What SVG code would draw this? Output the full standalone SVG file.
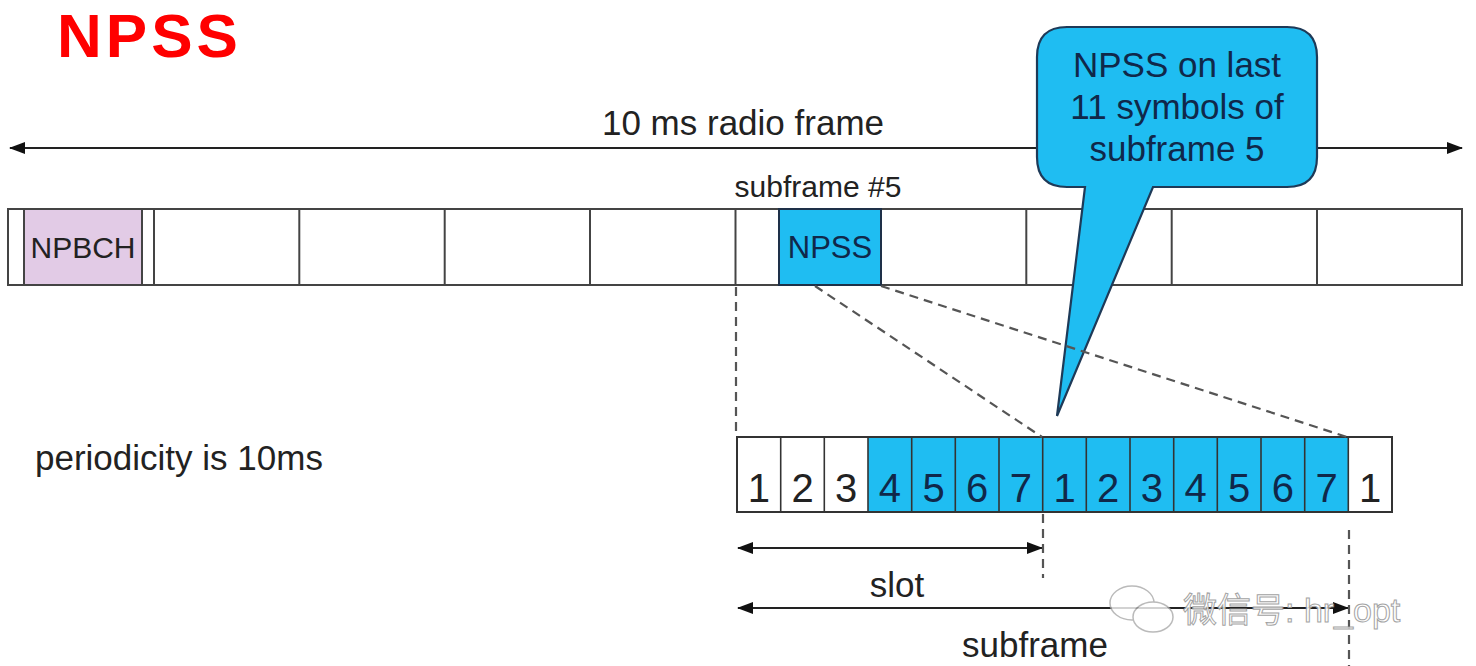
<svg xmlns="http://www.w3.org/2000/svg" width="1476" height="666" viewBox="0 0 1476 666">
  <defs>
    <style>
      .t { font-family: "Liberation Sans", Arial, sans-serif; fill: #222; }
      .tb { font-family: "Liberation Sans", Arial, sans-serif; fill: #10284a; }
      .frame { fill: #fff; stroke: #444; stroke-width: 2; }
      .div { stroke: #444; stroke-width: 2; }
      .sym { stroke: #333; stroke-width: 1.6; }
      .blue { fill: #1fbdf2; }
      .dash { stroke: #555; stroke-width: 2.2; stroke-dasharray: 9 6; fill: none; }
      .arrow { stroke: #222; stroke-width: 2; fill: none; }
    </style>
    <marker id="ah" viewBox="0 0 16 12" refX="15" refY="6" markerWidth="16" markerHeight="12" markerUnits="userSpaceOnUse" orient="auto-start-reverse">
      <path d="M0,0 L16,6 L0,12 Z" fill="#111"/>
    </marker>
  </defs>

  <rect width="1476" height="666" fill="#fff"/>

  <text class="t" x="57" y="57" font-size="62" font-weight="bold" letter-spacing="4" style="fill:#ff0000">NPSS</text>

  <!-- radio frame row -->
  <g id="radio-frame">
    <rect class="frame" x="8" y="209" width="1454" height="76"/>
    <rect x="24" y="209" width="118" height="76" fill="#e2cbe6" stroke="#444" stroke-width="2"/>
    <text class="t" x="83" y="258" font-size="30" text-anchor="middle">NPBCH</text>
    <line class="div" x1="154" y1="209" x2="154" y2="285"/>
    <line class="div" x1="299.3" y1="209" x2="299.3" y2="285"/>
    <line class="div" x1="444.7" y1="209" x2="444.7" y2="285"/>
    <line class="div" x1="590" y1="209" x2="590" y2="285"/>
    <line class="div" x1="735.5" y1="209" x2="735.5" y2="285"/>
    <line class="div" x1="1026.3" y1="209" x2="1026.3" y2="285"/>
    <line class="div" x1="1171.7" y1="209" x2="1171.7" y2="285"/>
    <line class="div" x1="1317" y1="209" x2="1317" y2="285"/>
  </g>
  <g id="npss-box">
    <rect class="blue" x="779" y="209" width="102" height="76" stroke="#1e3048" stroke-width="2"/>
    <text class="tb" x="830" y="258" font-size="31" text-anchor="middle">NPSS</text>
  </g>
  <text class="t" x="818" y="197" font-size="30" text-anchor="middle">subframe #5</text>

  <!-- symbol row -->
  <g id="symbol-row">
    <rect x="737" y="437" width="655" height="75" fill="#fff"/>
    <rect class="blue" x="868" y="437" width="480.3" height="75"/>
    <rect x="737" y="437" width="655" height="75" fill="none" stroke="#333" stroke-width="2"/>
    <g class="sym">
      <line x1="780.7" y1="437" x2="780.7" y2="512"/>
      <line x1="824.3" y1="437" x2="824.3" y2="512"/>
      <line x1="868" y1="437" x2="868" y2="512"/>
      <line x1="911.7" y1="437" x2="911.7" y2="512"/>
      <line x1="955.3" y1="437" x2="955.3" y2="512"/>
      <line x1="999" y1="437" x2="999" y2="512"/>
      <line x1="1042.7" y1="437" x2="1042.7" y2="512"/>
      <line x1="1086.3" y1="437" x2="1086.3" y2="512"/>
      <line x1="1130" y1="437" x2="1130" y2="512"/>
      <line x1="1173.7" y1="437" x2="1173.7" y2="512"/>
      <line x1="1217.3" y1="437" x2="1217.3" y2="512"/>
      <line x1="1261" y1="437" x2="1261" y2="512"/>
      <line x1="1304.7" y1="437" x2="1304.7" y2="512"/>
      <line x1="1348.3" y1="437" x2="1348.3" y2="512"/>
    </g>
    <g font-size="40" text-anchor="middle">
      <text class="t" x="758.8" y="502">1</text>
      <text class="t" x="802.5" y="502">2</text>
      <text class="t" x="846.2" y="502">3</text>
      <text class="tb" x="889.8" y="502">4</text>
      <text class="tb" x="933.5" y="502">5</text>
      <text class="tb" x="977.2" y="502">6</text>
      <text class="tb" x="1020.8" y="502">7</text>
      <text class="tb" x="1064.5" y="502">1</text>
      <text class="tb" x="1108.2" y="502">2</text>
      <text class="tb" x="1151.8" y="502">3</text>
      <text class="tb" x="1195.5" y="502">4</text>
      <text class="tb" x="1239.2" y="502">5</text>
      <text class="tb" x="1282.8" y="502">6</text>
      <text class="tb" x="1326.5" y="502">7</text>
      <text class="t" x="1370.2" y="502">1</text>
    </g>
  </g>

  <text class="t" x="35" y="470" font-size="35">periodicity is 10ms</text>

  <!-- connectors -->
  <g id="connectors">
    <line class="arrow" x1="10" y1="148" x2="1462" y2="148" marker-start="url(#ah)" marker-end="url(#ah)"/>
    <line class="arrow" x1="738" y1="548" x2="1042" y2="548" marker-start="url(#ah)" marker-end="url(#ah)"/>
    <line class="arrow" x1="738" y1="608" x2="1348" y2="608" marker-start="url(#ah)" marker-end="url(#ah)"/>
  </g>
  <text class="t" x="743" y="135" font-size="35" text-anchor="middle">10 ms radio frame</text>
  <text class="t" x="897" y="597" font-size="35" text-anchor="middle">slot</text>
  <text class="t" x="1035" y="657" font-size="35" text-anchor="middle">subframe</text>

  <!-- callout -->
  <g id="callout">
    <path d="M1067,27 H1287 Q1317,27 1317,57 V157 Q1317,187 1287,187 H1153 L1057,416 L1085,187 H1067 Q1037,187 1037,157 V57 Q1037,27 1067,27 Z" class="blue" stroke="#1e3a58" stroke-width="2.2"/>
    <g font-size="35" text-anchor="middle">
      <text class="tb" x="1177" y="77">NPSS on last</text>
      <text class="tb" x="1177" y="119">11 symbols of</text>
      <text class="tb" x="1177" y="161">subframe 5</text>
    </g>
  </g>

  <g id="dashed">
    <line class="dash" x1="736" y1="287" x2="736" y2="437"/>
    <line class="dash" x1="815" y1="286" x2="1042" y2="437"/>
    <line class="dash" x1="881" y1="286" x2="1347" y2="437"/>
    <line class="dash" x1="1043" y1="514" x2="1043" y2="578"/>
    <line class="dash" x1="1349" y1="530" x2="1349" y2="666"/>
  </g>

  <!-- watermark -->
  <g id="watermark" fill="none" stroke="#aaa" stroke-width="1.5" opacity="0.8">
    <ellipse cx="1132" cy="603" rx="22" ry="17" fill="#fff"/>
    <ellipse cx="1153" cy="617" rx="20" ry="15" fill="#fff"/>
  </g>
  <text x="1183" y="622" font-size="34" font-family="'Liberation Sans', 'Noto Sans CJK SC', sans-serif" fill="#fff" stroke="#999" stroke-width="1" opacity="0.9">微信号: hr_opt</text>
</svg>
